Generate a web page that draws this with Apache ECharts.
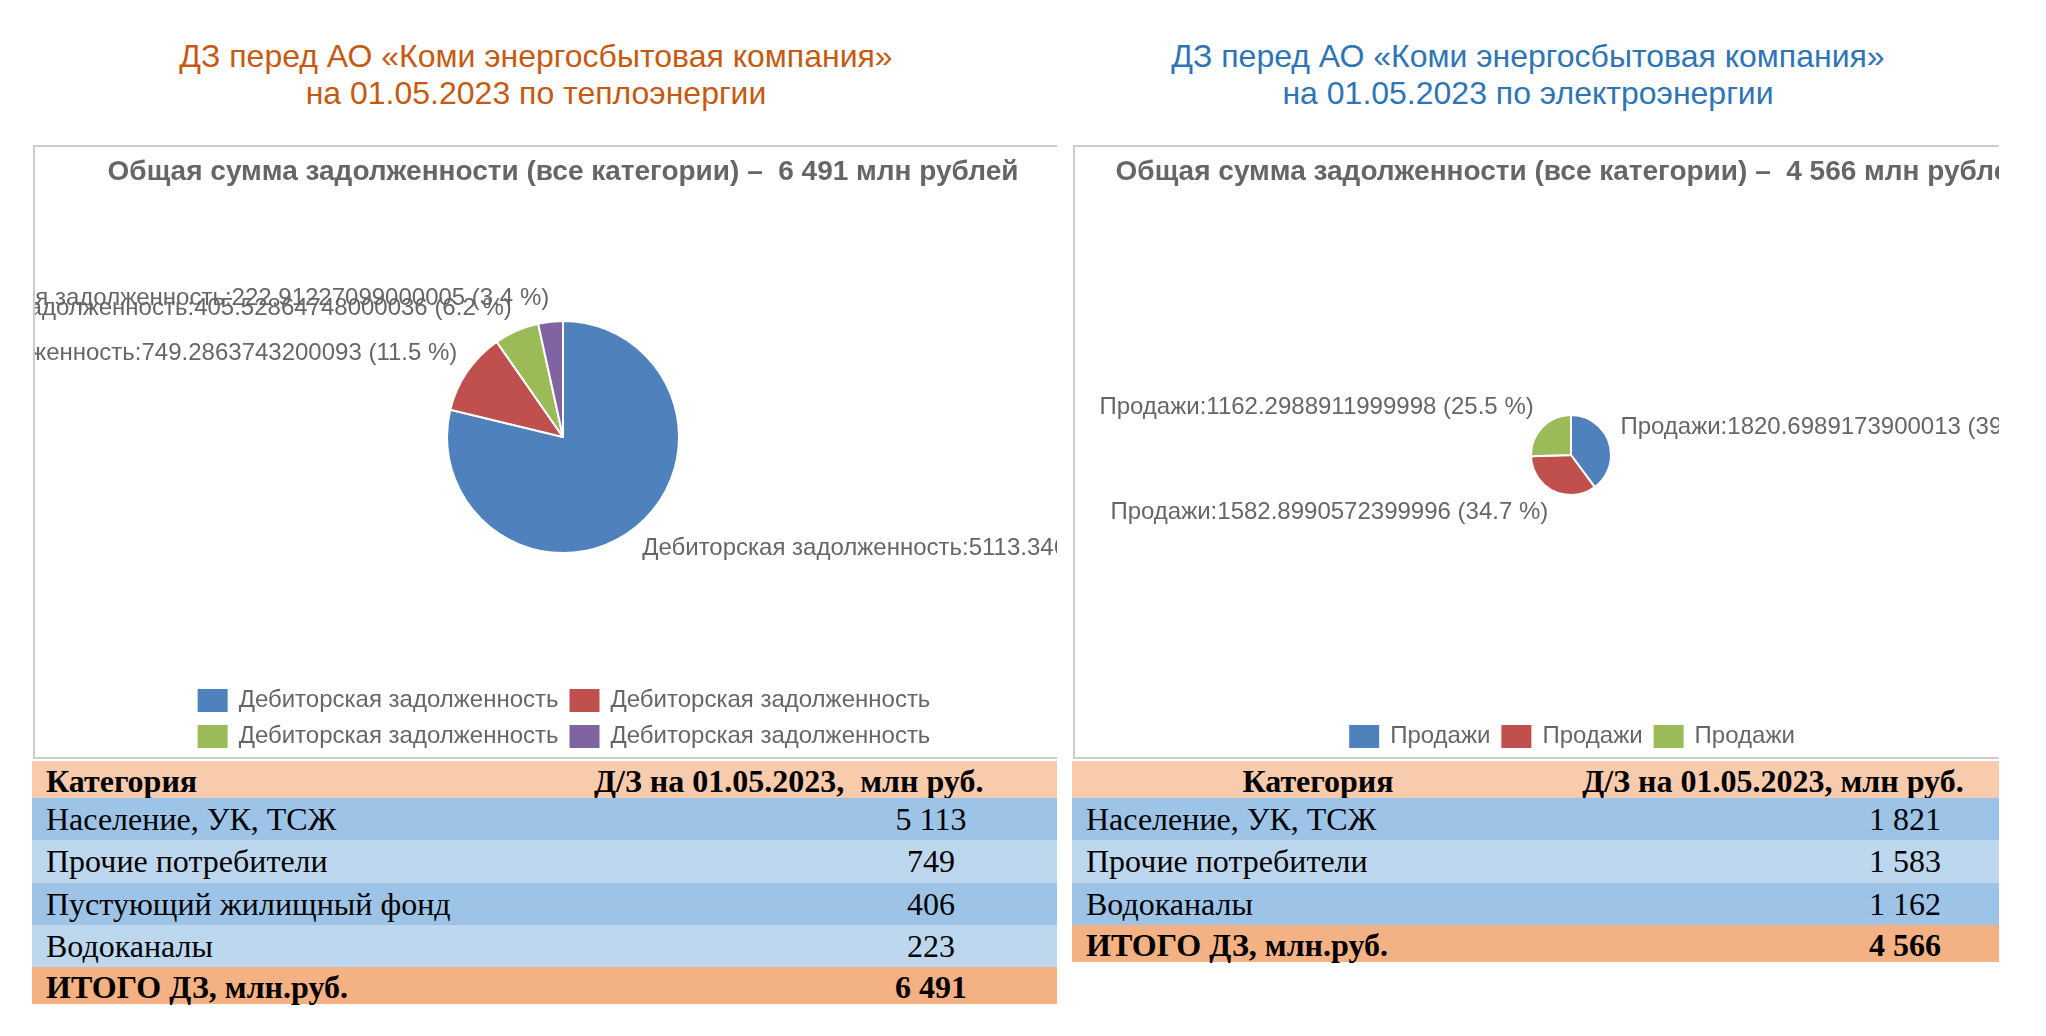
<!DOCTYPE html>
<html>
<head>
<meta charset="utf-8">
<script src="https://cdn.jsdelivr.net/npm/echarts@6/dist/echarts.min.js"></script>
<style>
  html, body { margin: 0; padding: 0; background: #fff; }
  body { width: 2046px; height: 1036px; position: relative; overflow: hidden; font-family: "Liberation Sans", Arial, sans-serif; }
  .ttl { position: absolute; width: 1000px; text-align: center; font-size: 32px; line-height: 37px; }
  .clip { position: absolute; overflow: hidden; }
  .box { position: absolute; left: 0; top: 0; border: 2px solid #cccccc; box-sizing: border-box; }
  .chart { position: absolute; left: 2px; top: 2px; }
  .cell { position: absolute; font-family: "Liberation Serif", "Times New Roman", serif; font-size: 32px; color: #000; white-space: pre; box-sizing: border-box; }
</style>
</head>
<body>
<script>
// ---------------- DATA ----------------
const heatTitleLines = ['ДЗ перед АО «Коми энергосбытовая компания»', 'на 01.05.2023 по теплоэнергии'];
const elecTitleLines = ['ДЗ перед АО «Коми энергосбытовая компания»', 'на 01.05.2023 по электроэнергии'];
const heatSliceLabel = 'Дебиторская задолженность';
const elecSliceLabel = 'Продажи';
const heatCategories = ['Население, УК, ТСЖ', 'Прочие потребители', 'Пустующий жилищный фонд', 'Водоканалы'];
const heatValues = [5113.34622301, 749.2863743200093, 405.52864748000036, 222.91227099000005];
const elecCategories = ['Население, УК, ТСЖ', 'Прочие потребители', 'Водоканалы'];
const elecValues = [1820.6989173900013, 1582.8990572399996, 1162.2988911999998];
const tableHeaderCategory = 'Категория';
const heatTableHeaderValue = 'Д/З на 01.05.2023,  млн руб.';
const elecTableHeaderValue = 'Д/З на 01.05.2023, млн руб.';
const tableTotalLabel = 'ИТОГО ДЗ, млн.руб.';
const sliceColors = ['#4F81BD', '#C0504D', '#9BBB59', '#8064A2'];
// --------------------------------------

function sum(a) { return a.reduce(function (s, v) { return s + v; }, 0); }
function fmtInt(v) { return String(Math.round(v)).replace(/\B(?=(\d{3})+(?!\d))/g, ' '); }

function addTitle(lines, cx, color) {
  const d = document.createElement('div');
  d.className = 'ttl';
  d.style.left = (cx - 500) + 'px';
  d.style.top = '38px';
  d.style.color = color;
  d.innerHTML = lines.join('<br>');
  document.body.appendChild(d);
}
addTitle(heatTitleLines, 536, '#C55A11');
addTitle(elecTitleLines, 1528, '#2E75B6');

function makePanel(left, visW, chartW) {
  const clip = document.createElement('div');
  clip.className = 'clip';
  clip.style.left = left + 'px';
  clip.style.top = '145px';
  clip.style.width = visW + 'px';
  clip.style.height = '614px';
  const box = document.createElement('div');
  box.className = 'box';
  box.style.width = (chartW + 60) + 'px';
  box.style.height = '614px';
  clip.appendChild(box);
  const ch = document.createElement('div');
  ch.className = 'chart';
  ch.style.width = chartW + 'px';
  ch.style.height = '610px';
  clip.appendChild(ch);
  document.body.appendChild(clip);
  return ch;
}

function pieOption(names, values, sliceLabel, radius, centerY) {
  const total = sum(values);
  return {
    animation: false,
    color: sliceColors,
    textStyle: { fontFamily: 'Liberation Sans' },
    title: {
      text: 'Общая сумма задолженности (все категории) –  ' + fmtInt(total) + ' млн рублей',
      left: 'center', top: 6,
      textStyle: { fontSize: 28, fontWeight: 'bold', color: '#666666', fontFamily: 'Liberation Sans' }
    },
    legend: {
      bottom: 7, left: 'center', icon: 'rect', itemWidth: 32, itemHeight: 25, itemGap: 9, padding: 0,
      formatter: function () { return sliceLabel; },
      textStyle: { fontSize: 24, color: '#666666', fontFamily: 'Liberation Sans', padding: [0, 0, 0, 5] },
      data: names
    },
    series: [{
      type: 'pie',
      radius: radius,
      center: ['50%', centerY],
      avoidLabelOverlap: false,
      itemStyle: { borderColor: '#ffffff', borderWidth: 2 },
      label: {
        show: true, position: 'outside', fontSize: 24, color: '#666666', distanceToLabelLine: 0,
        formatter: function (p) {
          return sliceLabel + ':' + p.value + ' (' + (p.value / total * 100).toFixed(1) + ' %)';
        }
      },
      labelLine: { show: false, length: 12, length2: 0 },
      labelLayout: function (p) {
        const mid = p.labelRect.y + p.labelRect.height / 2;
        return { y: mid + (mid < centerY ? -11 : 11), verticalAlign: 'middle', hideOverlap: false, moveOverlap: null };
      },
      emphasis: { disabled: true },
      data: names.map(function (n, i) { return { name: n, value: values[i] }; })
    }]
  };
}

const heatDom = makePanel(33, 1024, 1056);
echarts.init(heatDom).setOption(pieOption(heatCategories, heatValues, heatSliceLabel, 116, 290));
const elecDom = makePanel(1073, 926, 992);
echarts.init(elecDom).setOption(pieOption(elecCategories, elecValues, elecSliceLabel, 40, 308));

// ---------- tables ----------
function cell(x, y, w, h, bg, text, opts) {
  const d = document.createElement('div');
  d.className = 'cell';
  d.style.left = x + 'px'; d.style.top = y + 'px';
  d.style.width = w + 'px'; d.style.height = h + 'px';
  d.style.lineHeight = (h + ((opts && opts.dy) || 0) * 2) + 'px';
  if (bg) d.style.background = bg;
  if (opts && opts.bold) d.style.fontWeight = 'bold';
  if (opts && opts.align) d.style.textAlign = opts.align;
  if (opts && opts.pl != null) d.style.paddingLeft = opts.pl + 'px';
  d.textContent = text;
  document.body.appendChild(d);
}
function table(cfg) {
  const x0 = cfg.x0, x1 = cfg.x1;
  let y = 761;
  const hh = 37, rh = 42.3;
  cell(x0, y, x1 - x0, hh, '#F8CBAD', '', {});
  cell(cfg.catX, y, cfg.catW, hh, null, tableHeaderCategory, { bold: true, align: cfg.catAlign, pl: cfg.catPl, dy: 2 });
  cell(cfg.valHX, y, cfg.valHW, hh, null, cfg.header, { bold: true, align: cfg.valHAlign, dy: 2 });
  y += hh;
  cfg.cats.forEach(function (c, i) {
    cell(x0, y, x1 - x0, rh, i % 2 === 0 ? '#9DC3E6' : '#BDD7EE', '', {});
    cell(x0, y, 520, rh, null, c, { pl: cfg.pl });
    cell(cfg.valC - 100, y, 200, rh, null, fmtInt(cfg.vals[i]), { align: 'center' });
    y += rh;
  });
  cell(x0, y, x1 - x0, hh, '#F4B183', '', {});
  cell(x0, y, 520, hh, null, tableTotalLabel, { bold: true, pl: cfg.pl, dy: 1.5 });
  cell(cfg.valC - 100, y, 200, hh, null, fmtInt(sum(cfg.vals)), { bold: true, align: 'center', dy: 1.5 });
}
table({ x0: 32, x1: 1057, cats: heatCategories, vals: heatValues, pl: 14,
  catX: 32, catW: 400, catAlign: 'left', catPl: 14,
  valHX: 594, valHW: 463, valHAlign: 'left', header: heatTableHeaderValue, valC: 931 });
table({ x0: 1072, x1: 1999, cats: elecCategories, vals: elecValues, pl: 14,
  catX: 1118, catW: 400, catAlign: 'center', catPl: 0,
  valHX: 1553, valHW: 440, valHAlign: 'center', header: elecTableHeaderValue, valC: 1905 });
</script>
</body>
</html>
